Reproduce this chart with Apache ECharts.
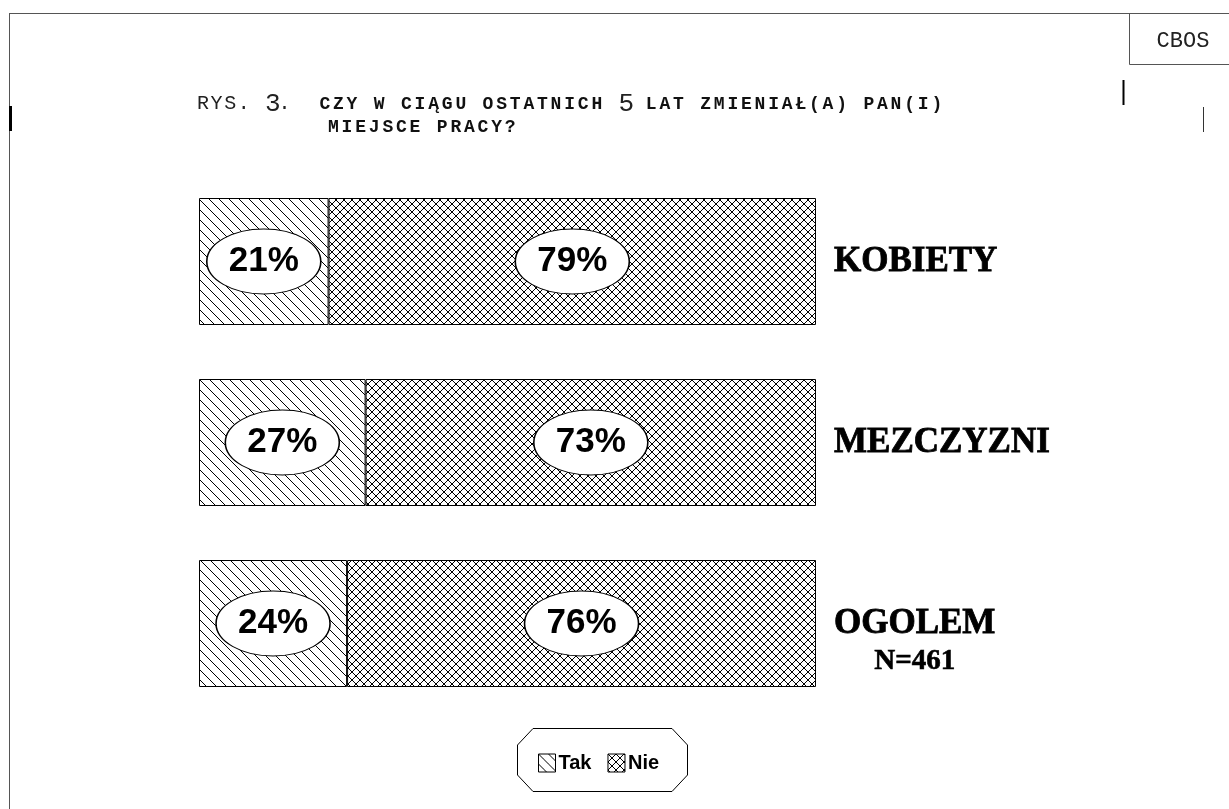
<!DOCTYPE html>
<html>
<head>
<meta charset="utf-8">
<script src="https://cdn.jsdelivr.net/npm/echarts@6/dist/echarts.min.js"></script>
<style>
  html, body { margin: 0; padding: 0; background: #fff; }
  #main { width: 1229px; height: 809px; }
</style>
</head>
<body>
<div id="main"></div>
<script>
// data
const categories = ['KOBIETY', 'MEZCZYZNI', 'OGOLEM'];
const notes = ['', '', 'N=461'];
const tak = [21, 27, 24];
const nie = [79, 73, 76];
const seriesNames = ['Tak', 'Nie'];

// hatch patterns, drawn once on small canvases
function makePattern(size, cross) {
    const c = document.createElement('canvas');
    c.width = size;
    c.height = size;
    const ctx = c.getContext('2d');
    ctx.fillStyle = '#fff';
    ctx.fillRect(0, 0, size, size);
    ctx.strokeStyle = '#000';
    ctx.lineWidth = 1;
    ctx.beginPath();
    // "\" lines
    ctx.moveTo(-1, -1); ctx.lineTo(size + 1, size + 1);
    ctx.moveTo(size - 1, -1); ctx.lineTo(size + 1, 1);
    ctx.moveTo(-1, size - 1); ctx.lineTo(1, size + 1);
    if (cross) {
        // "/" lines
        ctx.moveTo(size + 1, -1); ctx.lineTo(-1, size + 1);
        ctx.moveTo(1, -1); ctx.lineTo(-1, 1);
        ctx.moveTo(size + 1, size - 1); ctx.lineTo(size - 1, size + 1);
    }
    ctx.stroke();
    return { image: c, repeat: 'repeat' };
}
const takFill = makePattern(10, false);
const nieFill = makePattern(8, true);

// monospaced title, one token per character so every cell is 13.6px wide
function mono(str, style) {
    return str.split('').map(ch => '{' + style + '|' + ch + '}').join('');
}
const titleLine1 = mono('RYS.', 'r') + mono(' ', 'r') + mono('3', 'g') + mono('.  ', 'r')
    + mono('CZY W CIĄGU OSTATNICH ', 'b') + mono('5', 'g') + mono(' LAT ZMIENIAŁ(A) PAN(I)', 'b');
const titleLine2 = mono('MIEJSCE PRACY?', 'b');
const mono_ = '"Liberation Mono", "Courier New", monospace';
const titleRich = {
    r: { fontFamily: mono_, fontWeight: 'normal', fontSize: 20, color: '#222', width: 13.6 },
    g: { fontFamily: mono_, fontWeight: 'normal', fontSize: 26, color: '#222', width: 13.6 },
    b: { fontFamily: mono_, fontWeight: 'bold', fontSize: 18, color: '#111', width: 13.6 }
};
const titleStyle = { fontFamily: mono_, fontWeight: 'normal', rich: titleRich };

// label ellipses sit in the middle of each segment
const labelData = [];
tak.forEach((v, i) => labelData.push([v / 2, i, v]));
nie.forEach((v, i) => labelData.push([tak[i] + v / 2, i, v]));

const chart = echarts.init(document.getElementById('main'));

const option = {
    backgroundColor: '#fff',
    animation: false,
    title: [
        { text: titleLine1, left: 192, top: 86, textStyle: titleStyle },
        { text: titleLine2, left: 323, top: 113, textStyle: titleStyle }
    ],
    grid: { left: 199, right: 413, top: 171, bottom: 95 },
    xAxis: { type: 'value', min: 0, max: 100, show: false },
    yAxis: {
        type: 'category',
        data: categories,
        inverse: true,
        position: 'right',
        axisLine: { show: false },
        axisTick: { show: false },
        splitLine: { show: false },
        axisLabel: {
            margin: 18,
            align: 'left',
            formatter: (val, idx) => notes[idx]
                ? '{p| }\n{a|' + val + '}\n{n|' + notes[idx] + '}'
                : '{a|' + val + '}',
            rich: {
                p: { fontSize: 10, lineHeight: 38 },
                a: {
                    fontFamily: 'Liberation Serif', fontWeight: 'bold', fontSize: 35, lineHeight: 38,
                    color: '#000', textBorderColor: '#000', textBorderWidth: 0.8
                },
                n: {
                    fontFamily: 'Liberation Serif', fontWeight: 'bold', fontSize: 29, lineHeight: 38,
                    color: '#000', textBorderColor: '#000', textBorderWidth: 0.6, align: 'center'
                }
            }
        }
    },
    legend: {
        data: seriesNames,
        left: 533,
        top: 748,
        icon: 'rect',
        itemWidth: 17,
        itemHeight: 18,
        itemGap: 16,
        selectedMode: false,
        itemStyle: { borderColor: '#000', borderWidth: 1 },
        textStyle: { fontFamily: 'Liberation Sans', fontWeight: 'bold', fontSize: 20, color: '#000', padding: [0, 0, 0, -2] }
    },
    series: [
        {
            name: seriesNames[0],
            type: 'bar',
            stack: 'total',
            barWidth: 127,
            data: tak,
            itemStyle: { color: takFill, borderColor: '#000', borderWidth: 1 },
            emphasis: { disabled: true }
        },
        {
            name: seriesNames[1],
            type: 'bar',
            stack: 'total',
            barWidth: 127,
            data: nie,
            itemStyle: { color: nieFill, borderColor: '#000', borderWidth: 1 },
            emphasis: { disabled: true }
        },
        {
            name: 'etykiety',
            type: 'scatter',
            data: labelData,
            encode: { x: 0, y: 1 },
            symbol: 'circle',
            symbolSize: [114, 65],
            z: 5,
            silent: true,
            itemStyle: { color: '#fff', borderColor: '#000', borderWidth: 1.2, opacity: 1 },
            label: {
                show: true,
                position: 'inside',
                formatter: p => p.value[2] + '%',
                fontFamily: 'Liberation Sans',
                fontWeight: 'bold',
                fontSize: 35,
                color: '#000'
            },
            emphasis: { disabled: true }
        }
    ],
    graphic: [
        // page frame
        { type: 'line', shape: { x1: 9, y1: 13.5, x2: 1229, y2: 13.5 }, style: { stroke: '#555', lineWidth: 1 } },
        { type: 'line', shape: { x1: 9.5, y1: 13, x2: 9.5, y2: 809 }, style: { stroke: '#555', lineWidth: 1 } },
        { type: 'line', shape: { x1: 10.5, y1: 106, x2: 10.5, y2: 131 }, style: { stroke: '#000', lineWidth: 3 } },
        { type: 'line', shape: { x1: 1123.5, y1: 80, x2: 1123.5, y2: 105 }, style: { stroke: '#000', lineWidth: 2 } },
        { type: 'line', shape: { x1: 1203.5, y1: 107, x2: 1203.5, y2: 132 }, style: { stroke: '#333', lineWidth: 1 } },
        // CBOS box
        { type: 'rect', shape: { x: 1129.5, y: 13.5, width: 110, height: 51 }, style: { fill: 'none', stroke: '#555', lineWidth: 1 } },
        {
            type: 'text', x: 1183, y: 41,
            style: { text: 'CBOS', fontFamily: 'Liberation Mono', fontSize: 22, fill: '#222', align: 'center', verticalAlign: 'middle' }
        },
        // legend frame with cut corners
        {
            type: 'polygon',
            shape: { points: [[533, 728.5], [672, 728.5], [687.5, 745], [687.5, 775], [672, 791.5], [533, 791.5], [517.5, 775], [517.5, 745]] },
            style: { fill: 'none', stroke: '#000', lineWidth: 1 },
            z: -1
        }
    ]
};

chart.setOption(option);
</script>
</body>
</html>
